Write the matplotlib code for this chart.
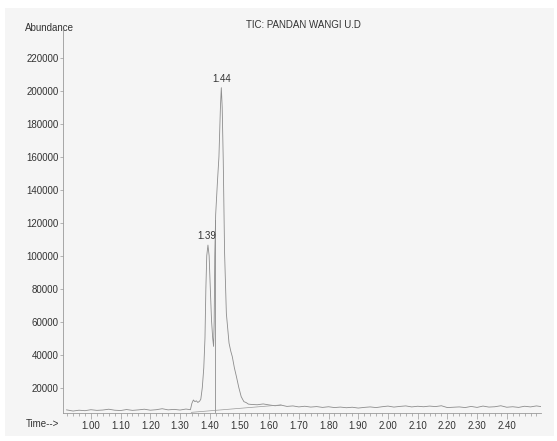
import matplotlib
matplotlib.use("Agg")
import matplotlib.pyplot as plt
from matplotlib.patches import Rectangle
from matplotlib.ticker import MultipleLocator, FixedLocator

plt.rcParams['font.family'] = ['Liberation Sans Narrow', 'Liberation Sans', 'DejaVu Sans']

# retention time (min) and abundance
time = [0.918, 0.94, 0.96, 0.98, 1.00, 1.02, 1.04, 1.06, 1.08, 1.10, 1.12, 1.14,
        1.16, 1.18, 1.20, 1.22, 1.24, 1.26, 1.28, 1.30, 1.32, 1.335,
        1.340, 1.345, 1.350, 1.355, 1.360, 1.366, 1.370, 1.375, 1.380, 1.384,
        1.387, 1.390, 1.394, 1.398, 1.402, 1.406, 1.410, 1.413, 1.415, 1.417,
        1.420, 1.426, 1.431, 1.436, 1.439, 1.442, 1.4455, 1.450, 1.456, 1.465,
        1.471, 1.476, 1.483, 1.490, 1.498, 1.506, 1.515, 1.523, 1.53,
        1.54, 1.56, 1.58, 1.60, 1.62, 1.64, 1.66, 1.68, 1.70, 1.72, 1.74, 1.76,
        1.78, 1.80, 1.82, 1.84, 1.86, 1.88, 1.90, 1.92, 1.94, 1.96, 1.98, 2.00,
        2.02, 2.04, 2.06, 2.08, 2.10, 2.12, 2.14, 2.16, 2.18, 2.20, 2.22, 2.24,
        2.26, 2.28, 2.30, 2.32, 2.34, 2.36, 2.38, 2.40, 2.42, 2.44, 2.46, 2.48,
        2.50, 2.515]
abundance = [6500, 5800, 6300, 6000, 6600, 6200, 6400, 6900, 6300, 6100, 6700, 6200,
             6500, 6900, 6300, 6600, 7200, 6500, 6800, 6400, 7000, 6600,
             10500, 12500, 11500, 12000, 11000, 11800, 13000, 20000, 32000, 50000,
             80000, 100000, 106500, 100000, 80000, 61000, 50000, 45000, 60000, 100000,
             125000, 145000, 160000, 190000, 202000, 190000, 158000, 102000, 65000, 47000,
             42000, 38800, 32000, 26600, 20000, 14500, 11500, 10900, 10000,
             9800, 9600, 10100, 9500, 9000, 9400, 8600, 8900, 8300, 8700, 8200, 8500,
             8000, 8400, 7900, 8200, 7800, 8100, 7600, 8000, 8300, 7900, 8400, 8800,
             8200, 8600, 8900, 8300, 8700, 8400, 8800, 8500, 9000, 7900, 8100, 8300,
             7900, 8600, 8000, 8800, 8200, 8400, 9000, 8100, 8400, 8000, 8700, 8300,
             8900, 8500]

peak_times = [1.39, 1.44]
peak_heights = [106500, 202000]
peak_labels = ["1.39", "1.44"]

split_time = 1.4165
split_top = 122000
base_t = [1.338, 1.64]
base_y = [5000, 9500]

yticks = [20000, 40000, 60000, 80000, 100000, 120000, 140000, 160000,
          180000, 200000, 220000]
xticks = [1.00, 1.10, 1.20, 1.30, 1.40, 1.50, 1.60, 1.70, 1.80, 1.90,
          2.00, 2.10, 2.20, 2.30, 2.40]

bg = '#f5f5f5'
txt = '#333333'
line = '#8c8c8c'
fig = plt.figure(figsize=(5.57, 4.41), dpi=100, facecolor='white')
fig.patches.append(Rectangle((0.009, 0.012), 0.985, 0.97, transform=fig.transFigure,
                             facecolor=bg, edgecolor='none', zorder=-10))
ax = fig.add_axes([0.1131, 0.0646, 0.858, 0.8674])
ax.set_facecolor(bg)
ax.patch.set_alpha(0)

ax.plot(time, abundance, color=line, lw=0.6)
ax.plot([split_time, split_time], [base_y[0] + 500, split_top], color=line, lw=0.6)
ax.plot(base_t, base_y, color='#999999', lw=0.5)

for t, h, s in zip(peak_times, peak_heights, peak_labels):
    ax.annotate(s, (t, h), xytext=(0, 3), textcoords='offset points',
                ha='center', va='bottom', fontsize=7, color=txt)

ax.set_xlim(0.906, 2.515)
ax.set_ylim(4900, 237000)

for side in ['top', 'right']:
    ax.spines[side].set_visible(False)
for side in ['left', 'bottom']:
    ax.spines[side].set_color('#999999')
    ax.spines[side].set_linewidth(0.6)

ax.yaxis.set_major_locator(FixedLocator(yticks))
ax.set_yticklabels([str(v) for v in yticks])
ax.xaxis.set_major_locator(FixedLocator(xticks))
ax.set_xticklabels(["%.2f" % v for v in xticks])
ax.xaxis.set_minor_locator(MultipleLocator(0.02))
ax.tick_params(axis='y', length=2, width=0.5, pad=1, labelsize=7,
               colors='#999999', labelcolor=txt)
ax.tick_params(axis='x', which='major', length=4, width=0.5, pad=2, labelsize=7,
               colors='#999999', labelcolor=txt)
ax.tick_params(axis='x', which='minor', length=2.5, width=0.5, colors='#999999')

fig.text(0.044, 0.936, "Abundance", fontsize=7, color=txt, va='center', ha='left')
fig.text(0.046, 0.038, "Time-->", fontsize=7, color=txt, va='center', ha='left')
fig.text(0.545, 0.943, "TIC: PANDAN WANGI U.D", fontsize=7, color=txt,
         va='center', ha='center')

fig.savefig("out.png", dpi=100, facecolor='white')
